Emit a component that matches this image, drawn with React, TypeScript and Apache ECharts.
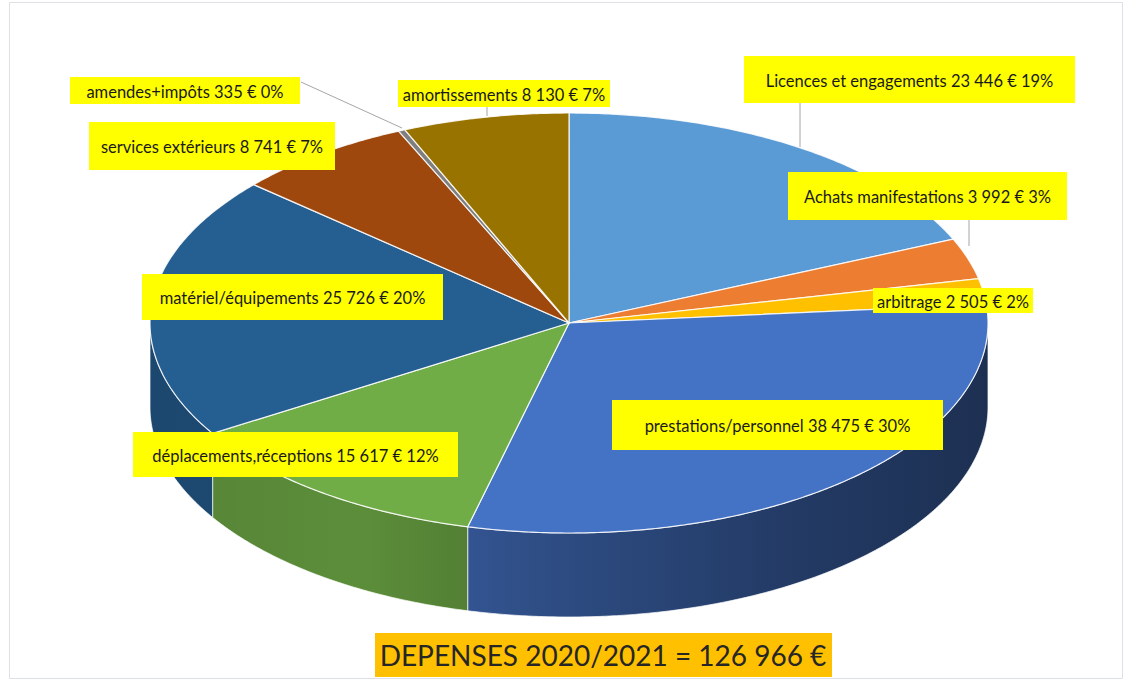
import React, { useEffect, useRef } from "react";
import * as echarts from "echarts";

// ---- data ----
const categories = [
  "Licences et engagements",
  "Achats manifestations",
  "arbitrage",
  "prestations/personnel",
  "déplacements,réceptions",
  "matériel/équipements",
  "services extérieurs",
  "amendes+impôts",
  "amortissements",
];
const amounts = [23446, 3992, 2505, 38475, 15617, 25726, 8741, 335, 8130];
const percentLabels = [19, 3, 2, 30, 12, 20, 7, 0, 7];
const titleText = "DEPENSES 2020/2021 = 126 966 €";

// ---- styles / layout ----
const topColors = ["#5B9BD5", "#ED7D31", "#FFC000", "#4472C4", "#70AD47", "#255E91", "#9E480E", "#7F7F7F", "#997300"];
const CX = 569, CY = 323, RX = 419, RY = 210, DEPTH = 84;
// label boxes [x, y, w, h]
const labelBoxes = [
  [744, 56, 331, 47],
  [788, 172, 279, 48],
  [873, 288, 160, 25],
  [612, 400, 331, 50],
  [133, 432, 325, 45],
  [142, 274, 301, 46],
  [89, 122, 246, 48],
  [70, 77, 230, 27],
  [398, 80, 212, 27],
];
const leaderLines: (number[] | null)[] = [
  [800, 103, 800, 147],
  [969, 220, 969, 246],
  null,
  null,
  null,
  null,
  null,
  [301, 82, 402, 128],
  [487, 107, 487, 116],
];

function fmt(n: number) {
  return String(n).replace(/\B(?=(\d{3})+(?!\d))/g, " ");
}
function shade(hex: string, f: number) {
  const h = hex.replace("#", "");
  const r = Math.round(parseInt(h.slice(0, 2), 16) * f);
  const g = Math.round(parseInt(h.slice(2, 4), 16) * f);
  const b = Math.round(parseInt(h.slice(4, 6), 16) * f);
  return `rgb(${r},${g},${b})`;
}
function pt(deg: number, dy = 0) {
  const r = (deg * Math.PI) / 180;
  return [CX + RX * Math.sin(r), CY - RY * Math.cos(r) + dy];
}
function arc(a: number, b: number, dy = 0) {
  const pts: number[][] = [];
  const n = Math.max(2, Math.ceil(Math.abs(b - a) / 0.5));
  for (let i = 0; i <= n; i++) pts.push(pt(a + ((b - a) * i) / n, dy));
  return pts;
}

export default function App() {
  const ref = useRef<HTMLDivElement>(null);
  useEffect(() => {
    if (!ref.current) return;
    const chart = echarts.init(ref.current, undefined, { renderer: "svg" });
    const total = amounts.reduce((s, v) => s + v, 0);
    const starts: number[] = [];
    const ends: number[] = [];
    let acc = 0;
    amounts.forEach((v) => {
      starts.push((acc / total) * 360);
      acc += v;
      ends.push((acc / total) * 360);
    });
    const data = amounts.map((v, i) => ({ name: categories[i], value: [i, v] }));

    const wallStops = [0, 0.25, 0.5, 0.75, 1];
    const wallFactors = [0.76, 0.82, 0.66, 0.52, 0.42];

    chart.setOption({
      animation: false,
      backgroundColor: "#ffffff",
      graphic: [
        {
          type: "rect",
          shape: { x: 9.5, y: 2.5, width: 1113, height: 676 },
          style: { fill: "none", stroke: "#DDE1E6", lineWidth: 1 },
          z: 0,
        },
        {
          type: "rect",
          shape: { x: 375, y: 633, width: 457, height: 44 },
          style: { fill: "#FFC000" },
          z: 10,
        },
        {
          type: "text",
          x: 603,
          y: 655,
          style: {
            text: titleText,
            fontFamily: "Lato",
            fontSize: 28,
            fill: "#262626",
            align: "center",
            verticalAlign: "middle",
          },
          z: 11,
        },
      ],
      series: [
        {
          type: "custom",
          coordinateSystem: "none",
          z: 1,
          silent: true,
          data,
          renderItem: (params: any) => {
            const i = params.dataIndex;
            const s = Math.max(starts[i], 90);
            const e = Math.min(ends[i], 270);
            if (e <= s) return { type: "group", children: [] };
            const pts = [...arc(s, e, 0), ...arc(e, s, DEPTH)];
            const grad = new echarts.graphic.LinearGradient(
              CX - RX, 0, CX + RX, 0,
              wallStops.map((o, k) => ({ offset: o, color: shade(topColors[i], wallFactors[k]) })),
              true
            );
            return {
              type: "polygon",
              shape: { points: pts },
              style: { fill: grad, stroke: "rgba(255,255,255,0.7)", lineWidth: 1 },
            };
          },
        },
        {
          type: "custom",
          coordinateSystem: "none",
          z: 2,
          silent: true,
          data,
          renderItem: (params: any) => {
            const i = params.dataIndex;
            const pts = [[CX, CY], ...arc(starts[i], ends[i], 0)];
            return {
              type: "polygon",
              shape: { points: pts },
              style: { fill: topColors[i], stroke: "rgba(255,255,255,0.85)", lineWidth: 1.2 },
            };
          },
        },
        {
          type: "custom",
          coordinateSystem: "none",
          z: 5,
          silent: true,
          data,
          renderItem: (params: any, api: any) => {
            const i = params.dataIndex;
            const [bx, by, bw, bh] = labelBoxes[i];
            const children: any[] = [];
            const ll = leaderLines[i];
            if (ll) {
              children.push({
                type: "line",
                shape: { x1: ll[0], y1: ll[1], x2: ll[2], y2: ll[3] },
                style: { stroke: "#A6A6A6", lineWidth: 1 },
              });
            }
            children.push({
              type: "rect",
              shape: { x: bx, y: by, width: bw, height: bh },
              style: { fill: "#FFFF00" },
            });
            children.push({
              type: "text",
              x: bx + bw / 2,
              y: by + bh / 2 + 1,
              style: {
                text: `${categories[i]} ${fmt(api.value(1))} € ${percentLabels[i]}%`,
                fontFamily: "Lato",
                fontSize: 16.5,
                fill: "#1a1a1a",
                align: "center",
                verticalAlign: "middle",
              },
            });
            return { type: "group", children };
          },
        },
      ],
    });
    return () => chart.dispose();
  }, []);
  return (
    <div
      ref={ref}
      style={{ position: "fixed", left: 0, top: 0, width: 1131, height: 690, background: "#fff" }}
    />
  );
}
